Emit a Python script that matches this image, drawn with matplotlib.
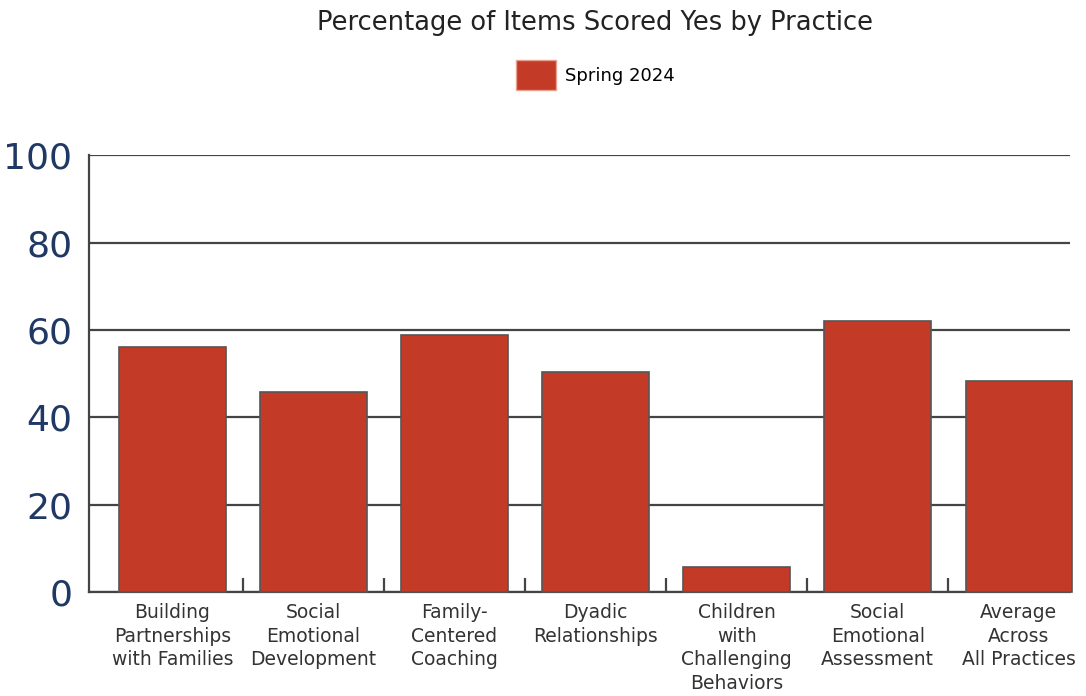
import matplotlib.pyplot as plt
from matplotlib.patches import Patch

# data
practices = ["Building\nPartnerships\nwith Families", "Social\nEmotional\nDevelopment",
             "Family-\nCentered\nCoaching", "Dyadic\nRelationships",
             "Children\nwith\nChallenging\nBehaviors", "Social\nEmotional\nAssessment",
             "Average\nAcross\nAll Practices"]
pct_yes = [56.1, 45.8, 58.8, 50.3, 5.9, 62.0, 48.3]
series_name = "Spring 2024"

bar_color = "#c33a27"
grid_color = "#444444"

fig = plt.figure(figsize=(10.86, 6.96), dpi=100)
ax = fig.add_axes([0.082, 0.149, 0.903, 0.628])

x = list(range(len(practices)))
ax.set_axisbelow(True)
ax.yaxis.grid(True, color=grid_color, linewidth=1.6)
ax.bar(x, pct_yes, width=0.757, color=bar_color, edgecolor="#555555", linewidth=1.2,
       zorder=3, clip_on=False)

ax.set_ylim(0, 100)
ax.set_xlim(-0.59, 6.36)
ax.set_yticks(range(0, 101, 20))
ax.tick_params(axis="y", length=0, labelsize=26, labelcolor="#1f3864", pad=12)

# category labels centred under bars, separator ticks between categories
ax.set_xticks(x)
ax.set_xticklabels(practices, fontsize=13.5, color="#333333", linespacing=1.3)
ax.tick_params(axis="x", which="major", length=0, pad=8)
ax.set_xticks([i + 0.5 for i in x[:-1]], minor=True)
ax.tick_params(axis="x", which="minor", direction="in", length=10, width=1.6, color=grid_color)

for side in ["top", "right"]:
    ax.spines[side].set_visible(False)
ax.spines["left"].set_color(grid_color)
ax.spines["left"].set_linewidth(1.6)
ax.spines["bottom"].set_color(grid_color)
ax.spines["bottom"].set_linewidth(1.6)

fig.text(0.548, 0.967, "Percentage of Items Scored Yes by Practice", ha="center", va="center",
         fontsize=18.5, color="#222222")
fig.legend(handles=[Patch(facecolor=bar_color, edgecolor="#e8a090", label=series_name)],
           loc="center", bbox_to_anchor=(0.548, 0.892), frameon=False, fontsize=13,
           handlelength=2.2, handleheight=2.2, handletextpad=0.5)

fig.savefig("out.png", dpi=100)
